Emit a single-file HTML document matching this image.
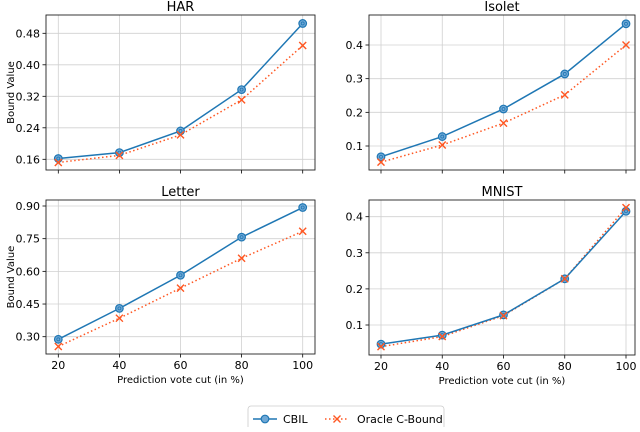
<!DOCTYPE html>
<html><head><meta charset="utf-8"><style>
body{margin:0;background:#fff;width:640px;height:427px;overflow:hidden}
svg{font-family:"DejaVu Sans","Liberation Sans",sans-serif}
</style></head><body>
<svg id="c" width="640" height="427"></svg>
<script>
const cuts=[20,40,60,80,100];
const harCbil=[0.162,0.177,0.232,0.337,0.505];
const harOracle=[0.152,0.170,0.222,0.311,0.449];
const isoCbil=[0.068,0.128,0.210,0.314,0.463];
const isoOracle=[0.052,0.103,0.168,0.252,0.400];
const letCbil=[0.288,0.430,0.582,0.757,0.893];
const letOracle=[0.255,0.385,0.523,0.660,0.784];
const mnCbil=[0.047,0.072,0.128,0.228,0.415];
const mnOracle=[0.040,0.068,0.126,0.228,0.425];
const harTicks=["0.16","0.24","0.32","0.40","0.48"];
const isoTicks=["0.1","0.2","0.3","0.4"];
const letTicks=["0.30","0.45","0.60","0.75","0.90"];
const mnTicks=["0.1","0.2","0.3","0.4"];
const NS="http://www.w3.org/2000/svg";
const svg=document.getElementById('c');
function mk(t,a,p){const e=document.createElementNS(NS,t);for(const k in a)e.setAttribute(k,a[k]);(p||svg).appendChild(e);return e;}
const panels=[
 {name:'HAR',L:46,R:315,T:15,B:170,x0:58.3,x1:302.7,va:0.16,ya:159.3,vb:0.48,yb:33.3,ticks:harTicks,c:harCbil,o:harOracle,ylab:true,xlab:false,cy:6},
 {name:'Isolet',L:369,R:635,T:15,B:170,x0:381,x1:626,va:0.1,ya:146,vb:0.4,yb:45,ticks:isoTicks,c:isoCbil,o:isoOracle,ylab:false,xlab:false},
 {name:'Letter',L:46,R:315,T:200,B:354,x0:58.3,x1:302.7,va:0.30,ya:336.7,vb:0.90,yb:206,ticks:letTicks,c:letCbil,o:letOracle,ylab:true,xlab:true},
 {name:'MNIST',L:369,R:635,T:200,B:355,x0:381,x1:626,va:0.1,ya:325,vb:0.4,yb:216.7,ticks:mnTicks,c:mnCbil,o:mnOracle,ylab:false,xlab:true}
];
panels.forEach(p=>{
 const g=mk('g',{});
 
 
 const xs=v=>p.x0+(v-20)/80*(p.x1-p.x0);
 const ys=v=>p.ya+(v-p.va)/(p.vb-p.va)*(p.yb-p.ya);
 cuts.forEach(v=>{const x=xs(v);
  mk('line',{x1:x,x2:x,y1:p.T,y2:p.B,stroke:'#d0d0d0','stroke-width':0.8},g);
  mk('line',{x1:x,x2:x,y1:p.B,y2:p.B+3.5,stroke:'#000','stroke-width':0.8},g);
  if(p.xlab){const t=mk('text',{x:x,y:p.B+15,'font-size':11,'text-anchor':'middle'},g);t.textContent=v;}
 });
 p.ticks.forEach(s=>{const y=ys(parseFloat(s));
  mk('line',{x1:p.L,x2:p.R,y1:y,y2:y,stroke:'#d0d0d0','stroke-width':0.8},g);
  mk('line',{x1:p.L-3.5,x2:p.L,y1:y,y2:y,stroke:'#000','stroke-width':0.8},g);
  const t=mk('text',{x:p.L-6,y:y+4,'font-size':11,'text-anchor':'end'},g);t.textContent=s;
 });
 mk('rect',{x:p.L,y:p.T,width:p.R-p.L,height:p.B-p.T,fill:'none',stroke:'#222','stroke-width':0.9},g);
 const tt=mk('text',{x:(p.L+p.R)/2,y:p.T-4,'font-size':13,'text-anchor':'middle'},g);tt.textContent=p.name;
 
 if(p.ylab){const t=mk('text',{x:0,y:0,'font-size':10,'text-anchor':'middle',transform:`translate(14,${(p.T+p.B)/2}) rotate(-90)`},g);t.textContent='Bound Value';}
 if(p.xlab){const t=mk('text',{x:(p.L+p.R)/2,y:p.B+29,'font-size':10,'text-anchor':'middle'},g);t.textContent='Prediction vote cut (in %)';}
 const po=p.o.map((v,i)=>xs(cuts[i])+','+ys(v)).join(' ');
 const ol=mk('polyline',{points:po,fill:'none',stroke:'#ff5722','stroke-width':1.5,'stroke-dasharray':'1.5,2.5'},g);
 
 const pc=p.c.map((v,i)=>xs(cuts[i])+','+ys(v)).join(' ');
 const cl=mk('polyline',{points:pc,fill:'none',stroke:'#1f77b4','stroke-width':1.5},g);
 
 p.c.forEach((v,i)=>{const m=mk('circle',{cx:xs(cuts[i]),cy:ys(v),r:3.8,fill:'#6fa8d6',stroke:'#1f77b4','stroke-width':1.2},g);
  
  mk('circle',{cx:xs(cuts[i]),cy:ys(v),r:1.5,fill:'none',stroke:'#1f77b4','stroke-width':0.8},g);});
 p.o.forEach((v,i)=>{const x=xs(cuts[i]),y=ys(v);
  const m=mk('path',{d:`M${x-3.5},${y-3.5}L${x+3.5},${y+3.5}M${x-3.5},${y+3.5}L${x+3.5},${y-3.5}`,stroke:'#ff5722','stroke-width':1.4},g);
  });
});
const lg=mk('g',{});


mk('rect',{x:248,y:406,width:196,height:26,rx:3,fill:'#fff',stroke:'#ccc','stroke-width':0.8},lg);
mk('line',{x1:253,x2:277,y1:419,y2:419,stroke:'#1f77b4','stroke-width':1.5},lg);
mk('circle',{cx:265,cy:419,r:3.8,fill:'#6fa8d6',stroke:'#1f77b4','stroke-width':1.2},lg);
let t=mk('text',{x:283,y:423,'font-size':11},lg);t.textContent='CBIL';
mk('line',{x1:325,x2:349,y1:419,y2:419,stroke:'#ff5722','stroke-width':1.5,'stroke-dasharray':'1.5,2.5'},lg);
mk('path',{d:'M333.5,415.5L340.5,422.5M333.5,422.5L340.5,415.5',stroke:'#ff5722','stroke-width':1.4},lg);
t=mk('text',{x:357,y:423,'font-size':11},lg);t.textContent='Oracle C-Bound';
</script>
</body></html>
